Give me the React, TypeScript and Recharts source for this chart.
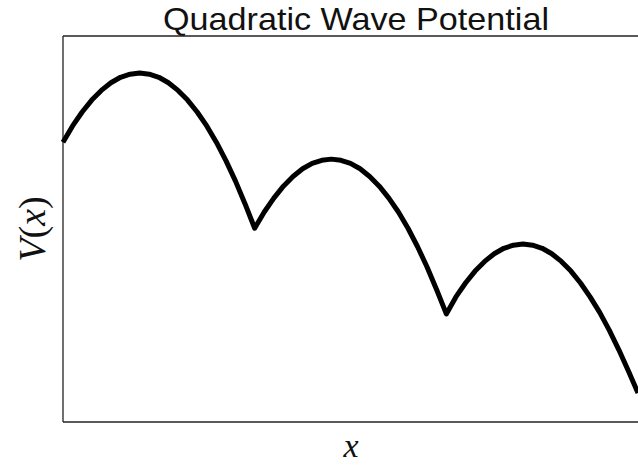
import React from "react";
import { Line, LineChart, ReferenceLine, XAxis, YAxis } from "recharts";

// sample positions along x (three periods of the wave)
const xs = [
  0, 0.05, 0.1, 0.15, 0.2, 0.25, 0.3, 0.35, 0.4, 0.45, 0.5, 0.55, 0.6, 0.65, 0.7, 0.75, 0.8, 0.85, 0.9, 0.95,
  1, 1.05, 1.1, 1.15, 1.2, 1.25, 1.3, 1.35, 1.4, 1.45, 1.5, 1.55, 1.6, 1.65, 1.7, 1.75, 1.8, 1.85, 1.9, 1.95,
  2, 2.05, 2.1, 2.15, 2.2, 2.25, 2.3, 2.35, 2.4, 2.45, 2.5, 2.55, 2.6, 2.65, 2.7, 2.75, 2.8, 2.85, 2.9, 2.95,
  3
];

// potential V(x) at each sample
const potential = [
  7.25, 7.67, 8.03, 8.34, 8.59, 8.79, 8.93, 9.01, 9.04, 9.01, 8.93, 8.79, 8.59, 8.34, 8.03, 7.67, 7.25, 6.77, 6.24, 5.65,
  5.02, 5.44, 5.8, 6.11, 6.36, 6.56, 6.7, 6.78, 6.81, 6.78, 6.7, 6.56, 6.36, 6.11, 5.8, 5.44, 5.02, 4.54, 4.01, 3.42,
  2.8, 3.24, 3.6, 3.91, 4.16, 4.36, 4.5, 4.58, 4.61, 4.58, 4.5, 4.36, 4.16, 3.91, 3.6, 3.24, 2.84, 2.38, 1.87, 1.32,
  0.75
];

const X_RANGE = [0, 3];
const Y_RANGE = [0, 10];

const data = xs.map((x, i) => ({ x, v: potential[i] }));

const FRAME = "#222";

export default function App() {
  return (
    <div style={{ position: "absolute", left: 0, top: 0, width: 638, height: 466, background: "#fff" }}>
      <LineChart width={638} height={466} data={data} margin={{ top: 36, right: 0, bottom: 44, left: 63 }}>
        <XAxis dataKey="x" type="number" domain={X_RANGE} hide />
        <YAxis type="number" domain={Y_RANGE} hide />
        {/* frame: bottom, top and left edges of the plot box */}
        <ReferenceLine y={Y_RANGE[0]} stroke={FRAME} strokeWidth={1.3} />
        <ReferenceLine y={Y_RANGE[1]} stroke={FRAME} strokeWidth={1.3} />
        <ReferenceLine x={X_RANGE[0]} stroke={FRAME} strokeWidth={1.3} />
        <Line
          type="linear"
          dataKey="v"
          stroke="#000"
          strokeWidth={5}
          dot={false}
          strokeLinejoin="round"
          isAnimationActive={false}
        />
        <text
          x={356}
          y={30}
          textAnchor="middle"
          fontFamily="'Liberation Sans', Arial, sans-serif"
          fontSize={32}
          textLength={386}
          lengthAdjust="spacingAndGlyphs"
          fill="#111"
        >
          Quadratic Wave Potential
        </text>
        <text
          x={0}
          y={0}
          transform="translate(45, 229) rotate(-90)"
          textAnchor="middle"
          fontFamily="'Liberation Serif', serif"
          fontSize={38}
          fill="#111"
        >
          <tspan fontStyle="italic">V</tspan>
          <tspan>(</tspan>
          <tspan fontStyle="italic">x</tspan>
          <tspan>)</tspan>
        </text>
        <text
          x={351}
          y={457}
          textAnchor="middle"
          fontFamily="'Liberation Serif', serif"
          fontStyle="italic"
          fontSize={34}
          fill="#111"
        >
          x
        </text>
      </LineChart>
    </div>
  );
}
